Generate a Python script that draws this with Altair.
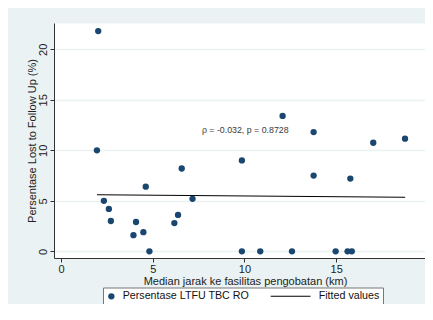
import altair as alt
import pandas as pd

# Scatter points (distance km, LTFU %)
dist_km = [2.03, 1.96, 2.34, 2.61, 2.72, 4.09, 3.95, 4.49, 4.82, 4.62, 6.58, 6.38, 6.18, 7.17,
           9.86, 13.77, 15.77, 9.86, 10.86, 12.59, 14.97, 15.62, 15.85, 12.08, 13.77, 17.02, 18.75]
ltfu_pct = [21.8, 10.0, 5.0, 4.2, 3.0, 2.9, 1.6, 1.9, 0.0, 6.4, 8.2, 3.6, 2.8, 5.2,
            9.0, 7.5, 7.2, 0.0, 0.0, 0.0, 0.0, 0.0, 0.0, 13.4, 11.8, 10.75, 11.15]

# Fitted line end points
fit_x = [1.96, 18.76]
fit_y = [5.6, 5.35]

# Annotation
ann_x = [7.68]
ann_y = [12.0]
ann_text = ["\u03c1 = -0.032, p = 0.8728"]

series_names = ["Persentase LTFU TBC RO", "Fitted values"]
ticks = [0, 5, 10, 15, 20]

pts = pd.DataFrame({"x": dist_km, "y": ltfu_pct, "series": series_names[0]})
fit = pd.DataFrame({"x": fit_x, "y": fit_y})
ann = pd.DataFrame({"x": ann_x, "y": ann_y, "t": ann_text})

FONT = "Liberation Sans"
NAVY = "#1a476f"

xscale = alt.Scale(domain=[-0.38, 19.84], nice=False, zero=False)
yscale = alt.Scale(domain=[-0.66, 22.6], nice=False, zero=False)

xaxis = alt.Axis(values=ticks, title="Median jarak ke fasilitas pengobatan (km)",
                 grid=False, tickSize=4, labelPadding=1, labelFontSize=11,
                 labelFont=FONT, titleFont=FONT, titleFontSize=11, titleFontWeight="normal",
                 domainColor="#333333", tickColor="#333333", labelColor="#222222",
                 titleColor="#222222", titleBaseline="middle", titleX=191, titleY=23.5,
                 labelFlush=False)
yaxis = alt.Axis(values=ticks, title="Persentase Lost to Follow Up (%)",
                 grid=True, gridColor="#eaf2f3", gridWidth=1.5, tickSize=4, labelPadding=2,
                 labelAngle=270, labelAlign="center", labelBaseline="bottom",
                 labelFontSize=11, labelFont=FONT, titleFont=FONT, titleFontSize=11,
                 titleFontWeight="normal", domainColor="#333333", tickColor="#333333",
                 labelColor="#222222", titleColor="#222222", titleBaseline="middle",
                 titleX=-22, titleAngle=270, labelFlush=False)

line_path = "M-11.6,-0.17H1V0.17H-11.6Z"

points = alt.Chart(pts).mark_point(filled=True, opacity=1, size=40, strokeWidth=0).encode(
    x=alt.X("x:Q", scale=xscale, axis=xaxis),
    y=alt.Y("y:Q", scale=yscale, axis=yaxis),
    color=alt.Color("series:N", scale=alt.Scale(domain=series_names, range=[NAVY, "#000000"]),
                    legend=alt.Legend(title=None, orient="none", legendX=49, legendY=264.5,
                                      direction="horizontal", strokeColor="#777777",
                                      fillColor="white", padding=3, cornerRadius=0,
                                      labelFont=FONT, labelFontSize=10.7, labelColor="#111111",
                                      symbolSize=40, symbolStrokeWidth=0, labelOffset=6,
                                      columnPadding=20, symbolOpacity=1)),
    shape=alt.Shape("series:N", scale=alt.Scale(domain=series_names, range=["circle", line_path])),
)

fitline = alt.Chart(fit).mark_line(color="#000000", strokeWidth=1).encode(
    x=alt.X("x:Q", scale=xscale),
    y=alt.Y("y:Q", scale=yscale),
)

label = alt.Chart(ann).mark_text(align="left", baseline="middle", font=FONT, fontSize=8.8,
                                 color="#3a3a3a").encode(
    x=alt.X("x:Q", scale=xscale),
    y=alt.Y("y:Q", scale=yscale),
    text="t:N",
)

chart = alt.layer(fitline, points, label).properties(
    width=371, height=235,
    background="#eaf2f3",
    autosize=alt.AutoSizeParams(type="none"),
    padding={"left": 46, "top": 15, "right": 0, "bottom": 46},
).configure_view(fill="white", stroke="transparent")

chart.save("out.html", embed_options={"renderer": "svg", "actions": False})
